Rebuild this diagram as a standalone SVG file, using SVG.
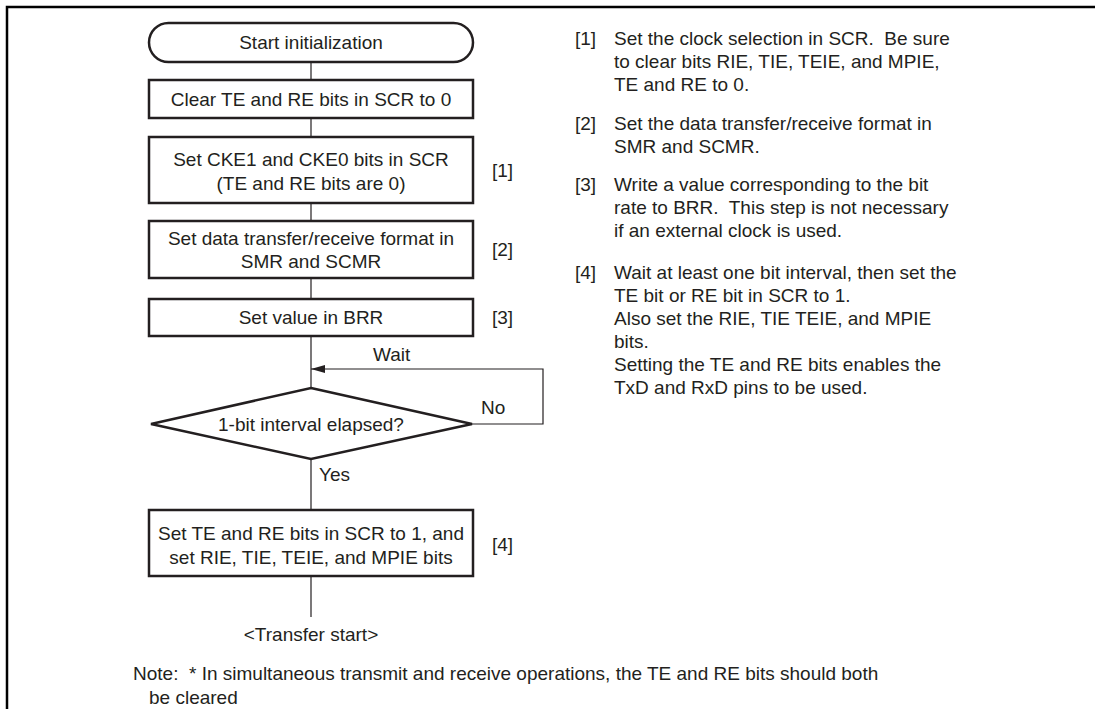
<svg xmlns="http://www.w3.org/2000/svg" width="1095" height="709" viewBox="0 0 1095 709">
<style>
text{font-family:"Liberation Sans",Arial,sans-serif;font-size:19px;fill:#231f20}
.c{text-anchor:middle}
.box{fill:#fff;stroke:#231f20;stroke-width:2.5}
.ln{fill:none;stroke:#231f20;stroke-width:1.2}
</style>
<defs>
<marker id="ah" markerWidth="14" markerHeight="8" refX="14" refY="4" orient="auto" markerUnits="userSpaceOnUse">
<path d="M0,0 L14,4 L0,8 Z" fill="#231f20"/>
</marker>
</defs>
<rect width="1095" height="709" fill="#fff"/>
<path d="M7,709 V7 H1095" fill="none" stroke="#000" stroke-width="2.5"/>
<g id="connectors">
<path class="ln" d="M311,62 V80"/>
<path class="ln" d="M311,118 V137"/>
<path class="ln" d="M311,203 V221"/>
<path class="ln" d="M311,278 V299"/>
<path class="ln" d="M311,336 V388"/>
<path class="ln" d="M472,424 H543 V369 H311" marker-end="url(#ah)"/>
<path class="ln" d="M311,459 V510"/>
<path class="ln" d="M311,576 V617"/>
<text x="373" y="361">Wait</text>
<text x="481" y="414">No</text>
<text x="319" y="481">Yes</text>
</g>
<g id="start">
<rect class="box" x="149" y="23" width="324" height="39" rx="19.5" stroke-width="2"/>
<text class="c" x="311" y="49">Start initialization</text>
</g>
<g id="clear">
<rect class="box" x="149" y="80" width="324" height="38"/>
<text class="c" x="311" y="106">Clear TE and RE bits in SCR to 0</text>
</g>
<g id="cke">
<rect class="box" x="149" y="137" width="324" height="66"/>
<text class="c" x="311" y="166">Set CKE1 and CKE0 bits in SCR</text>
<text class="c" x="311" y="190">(TE and RE bits are 0)</text>
<text x="492" y="177">[1]</text>
</g>
<g id="format">
<rect class="box" x="149" y="221" width="324" height="57"/>
<text class="c" x="311" y="245">Set data transfer/receive format in</text>
<text class="c" x="311" y="268">SMR and SCMR</text>
<text x="492" y="256">[2]</text>
</g>
<g id="brr">
<rect class="box" x="149" y="299" width="324" height="37"/>
<text class="c" x="311" y="324">Set value in BRR</text>
<text x="492" y="324">[3]</text>
</g>
<g id="decision">
<polygon class="box" points="311,388 472,424 311,459 151,424" stroke-width="2"/>
<text class="c" x="311" y="431">1-bit interval elapsed?</text>
</g>
<g id="enable">
<rect class="box" x="149" y="510" width="324" height="66"/>
<text class="c" x="311" y="540">Set TE and RE bits in SCR to 1, and</text>
<text class="c" x="311" y="564">set RIE, TIE, TEIE, and MPIE bits</text>
<text x="492" y="551">[4]</text>
</g>
<g id="end">
<text class="c" x="311" y="641">&lt;Transfer start&gt;</text>
</g>
<g id="notes">
<text x="575" y="45">[1]</text>
<text x="614" y="45" xml:space="preserve">Set the clock selection in SCR.  Be sure</text>
<text x="614" y="68">to clear bits RIE, TIE, TEIE, and MPIE,</text>
<text x="614" y="91">TE and RE to 0.</text>
<text x="575" y="130">[2]</text>
<text x="614" y="130">Set the data transfer/receive format in</text>
<text x="614" y="153">SMR and SCMR.</text>
<text x="575" y="191">[3]</text>
<text x="614" y="191">Write a value corresponding to the bit</text>
<text x="614" y="214" xml:space="preserve">rate to BRR.  This step is not necessary</text>
<text x="614" y="237">if an external clock is used.</text>
<text x="575" y="279">[4]</text>
<text x="614" y="279">Wait at least one bit interval, then set the</text>
<text x="614" y="302">TE bit or RE bit in SCR to 1.</text>
<text x="614" y="325">Also set the RIE, TIE TEIE, and MPIE</text>
<text x="614" y="348">bits.</text>
<text x="614" y="371">Setting the TE and RE bits enables the</text>
<text x="614" y="394">TxD and RxD pins to be used.</text>
<text x="133" y="680" xml:space="preserve">Note:  * In simultaneous transmit and receive operations, the TE and RE bits should both</text>
<text x="149" y="704">be cleared</text>
</g>
</svg>
